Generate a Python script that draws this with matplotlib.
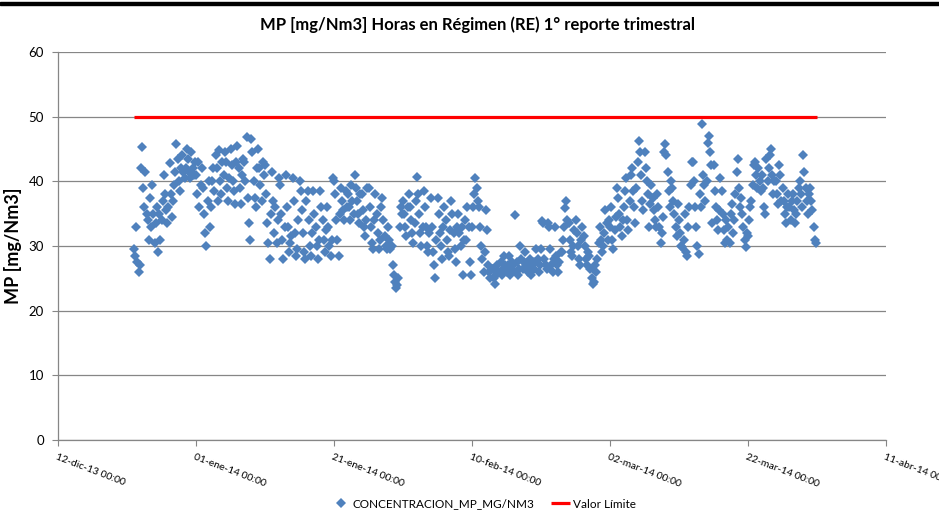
import matplotlib.pyplot as plt
import matplotlib.dates as mdates
from matplotlib.patches import Rectangle
import pandas as pd

# hourly-ish readings, 6 per day (every 4 h) starting 23-dic-13 00:00
mp_dic = [
    29.5, 28.5, 33.0, 27.5, 26.0, 27.0,
    42.0, 45.3, 39.0, 36.0, 41.5, 35.0,
    34.0, 31.0, 37.5, 33.0, 39.5, 35.0,
    30.5, 33.5, 36.0, 29.0, 35.0, 31.0,
    34.0, 37.0, 41.0, 38.0, 35.5, 33.5,
    36.0, 42.8, 38.0, 34.5, 37.0, 39.5,
    41.5, 45.8, 43.5, 40.0, 38.5, 42.0,
    44.0, 41.5, 40.5, 42.0, 45.0, 43.5,
    41.5, 40.5, 44.5, 42.0, 41.0, 43.0,
]
mp_ene = [
    41.0, 38.0, 43.0, 36.0, 39.5, 42.0,
    39.0, 35.0, 32.0, 30.0, 37.0, 40.0,
    33.0, 36.0, 40.0, 42.0, 38.5, 44.0,
    42.0, 37.0, 44.8, 40.0, 38.0, 43.0,
    41.0, 44.5, 43.0, 39.0, 37.0, 40.5,
    45.0, 42.5, 40.0, 38.5, 36.5, 43.0,
    45.5, 42.0, 39.0, 36.5, 41.0, 43.5,
    43.0, 40.0, 46.8, 37.5, 33.5, 31.0,
    46.5, 44.5, 40.0, 37.5, 36.0, 42.0,
    45.0, 42.0, 39.5, 37.0, 43.0, 41.0,
    42.5, 38.0, 33.5, 30.5, 28.0, 35.0,
    41.5, 37.0, 32.0, 36.0, 30.5, 34.0,
    40.5, 39.5, 35.0, 31.0, 28.0, 33.0,
    41.0, 36.0, 33.0, 29.0, 30.5, 31.5,
    40.5, 37.0, 32.0, 28.5, 29.5, 34.0,
    40.0, 38.5, 35.5, 32.0, 29.0, 28.0,
    37.0, 38.5, 34.0, 30.0, 28.5, 32.0,
    38.5, 35.0, 33.0, 30.0, 28.0, 31.0,
    38.5, 36.0, 34.0, 31.0, 29.0, 32.5,
    36.0, 33.0, 30.0, 28.5, 31.0, 40.5,
    40.0, 38.0, 34.0, 31.0, 28.5, 35.0,
    39.0, 37.0, 35.5, 34.0, 38.5, 36.0,
    38.0, 36.0, 34.0, 39.5, 37.0, 35.0,
    41.0, 39.0, 37.0, 35.0, 33.5, 38.0,
    38.0, 35.5, 33.0, 31.5, 34.0, 39.0,
    39.0, 36.0, 33.0, 30.5, 29.5, 34.0,
    38.0, 35.0, 32.0, 29.5, 31.0, 36.0,
    37.5, 34.0, 31.5, 30.0, 29.5, 33.0,
    31.0, 29.5, 30.0, 27.0, 25.5, 24.5,
    23.5, 24.0, 25.0, 33.0, 36.0, 35.0,
    37.0, 35.0, 33.0, 31.5, 36.0, 38.0,
]
mp_feb = [
    36.0, 34.0, 32.0, 30.5, 33.5, 37.0,
    40.7, 38.0, 35.0, 32.0, 30.0, 33.0,
    38.5, 36.0, 33.0, 30.0, 29.0, 32.0,
    37.5, 33.0, 29.0, 27.0, 25.0, 31.0,
    37.5, 35.0, 32.0, 30.0, 28.0, 33.0,
    36.0, 34.0, 31.0, 29.0, 28.5, 32.5,
    37.0, 35.0, 32.0, 29.5, 27.5, 33.0,
    35.0, 32.0, 30.0, 33.0, 25.5, 31.0,
    34.0, 31.0, 36.0, 33.0, 27.5, 25.5,
    33.0, 36.0, 38.0, 40.5, 39.0, 37.0,
    36.0, 33.0, 30.0, 28.0, 26.0, 29.0,
    35.5, 32.5, 27.0, 26.0, 25.0, 26.5,
    26.5, 25.0, 24.2, 25.5, 27.0, 26.0,
    26.0, 27.5, 25.5, 26.5, 28.5, 27.0,
    26.0, 27.0, 28.5, 25.5, 26.5, 27.5,
    27.0, 34.8, 26.0, 27.5, 25.5, 26.5,
    30.0, 28.0, 26.5, 27.5, 29.0, 27.0,
    27.0, 26.0, 28.0, 25.5, 26.5, 27.5,
    26.5, 27.5, 29.5, 28.0, 26.0, 27.0,
    29.5, 33.8, 33.5, 28.0, 27.0, 26.5,
    33.5, 33.0, 29.5, 27.0, 26.0, 28.0,
    33.0, 28.5, 27.0, 26.0, 27.5, 29.0,
    29.0, 31.0, 33.0, 35.8, 37.0, 34.0,
    33.5, 31.0, 29.0, 28.5, 30.0, 32.5,
    34.0, 32.0, 30.0, 28.0, 27.0, 31.0,
    33.0, 31.5, 30.0, 28.0, 27.0, 29.0,
    28.5, 26.5, 25.0, 24.2, 24.5, 27.0,
    26.0, 28.0, 30.5, 33.0, 31.0, 29.0,
]
mp_mar = [
    30.0, 32.0, 35.5, 33.5, 31.0, 34.0,
    33.0, 36.0, 31.0, 29.5, 32.5, 34.5,
    39.0, 37.5, 35.0, 33.0, 31.5, 34.0,
    36.0, 38.5, 40.5, 34.0, 32.5, 37.0,
    41.0, 42.0, 38.5, 36.0, 33.5, 39.0,
    43.0, 46.3, 44.5, 41.0, 37.0, 35.5,
    44.5, 42.0, 40.0, 38.0, 33.0, 36.5,
    39.5, 37.5, 35.5, 34.0, 33.0, 38.0,
    36.0, 33.0, 30.5, 32.0, 34.5, 44.5,
    45.8, 44.0, 41.5, 38.5, 36.0, 40.0,
    39.0, 37.0, 35.0, 33.0, 31.5, 36.5,
    34.0, 32.0, 30.0, 29.8, 31.0, 35.0,
    29.0, 28.5, 33.0, 36.0, 39.5, 43.0,
    43.0, 40.0, 36.0, 33.0, 30.0, 28.8,
    38.0, 36.0, 48.9, 41.0, 39.5, 37.0,
    40.0, 46.0, 47.0, 44.5, 42.5, 33.5,
    42.5, 38.5, 36.0, 34.0, 32.5, 35.5,
    40.5, 38.5, 35.0, 32.5, 30.5, 34.0,
    31.0, 33.0, 30.5, 35.0, 36.5, 32.0,
    34.0, 38.0, 41.5, 43.5, 39.0, 36.0,
    37.5, 35.0, 33.0, 31.0, 29.9, 32.0,
    31.5, 34.0, 36.0, 37.0, 39.5, 42.5,
    43.0, 41.0, 39.0, 42.0, 40.0, 38.5,
    41.0, 39.0, 36.0, 35.0, 43.5, 40.0,
    42.0, 44.0, 45.0, 41.0, 38.0, 40.0,
    40.0, 38.0, 36.5, 42.5, 41.0, 37.0,
    39.0, 37.0, 35.0, 33.5, 36.0, 38.0,
    36.0, 34.0, 37.0, 38.0, 35.5, 33.5,
    35.0, 37.0, 39.0, 40.0, 38.0, 36.0,
    44.0, 41.5, 39.0, 37.0, 35.0, 38.0,
    39.0, 37.0, 35.5, 33.0, 31.0, 30.5,
]

limit_dates = ["2013-12-23 00:00", "2014-04-01 00:00"]
limit_values = [50, 50]

tick_dates = ["2013-12-12", "2014-01-01", "2014-01-21", "2014-02-10",
              "2014-03-02", "2014-03-22", "2014-04-11"]
tick_labels = ["12-dic-13 00:00", "01-ene-14 00:00", "21-ene-14 00:00",
               "10-feb-14 00:00", "02-mar-14 00:00", "22-mar-14 00:00",
               "11-abr-14 00:00"]

plt.rcParams["font.family"] = ["Lato", "DejaVu Sans"]

mp = mp_dic + mp_ene + mp_feb + mp_mar
times = pd.date_range("2013-12-23 00:00", periods=len(mp), freq="4h")

fig = plt.figure(figsize=(9.39, 5.19), dpi=100)
ax = fig.add_axes([58 / 939, 1 - 440 / 519, 828 / 939, 388 / 519])

grid_color = "#868686"
ax.plot(times, mp, linestyle="none", marker="D", markersize=5.4,
        color="#4F81BD", markeredgewidth=0, label="CONCENTRACION_MP_MG/NM3")
ax.plot(pd.to_datetime(limit_dates), limit_values, color="#FF0000",
        linewidth=2.3, label="Valor Límite", solid_capstyle="butt")

ax.set_ylim(0, 60)
ax.set_yticks(range(0, 61, 10))
ax.set_xlim(pd.Timestamp(tick_dates[0]), pd.Timestamp(tick_dates[-1]))
ax.set_xticks(pd.to_datetime(tick_dates))
ax.set_xticklabels(tick_labels, rotation=-21, ha="left", va="top",
                   rotation_mode="anchor", fontsize=7.5)
ax.tick_params(axis="y", labelsize=9.5, length=4, color=grid_color, pad=6)
ax.tick_params(axis="x", length=4, color=grid_color, pad=5)

ax.grid(axis="y", color=grid_color, linewidth=0.9)
ax.set_axisbelow(True)
for side in ["top", "right"]:
    ax.spines[side].set_visible(False)
for side in ["left", "bottom"]:
    ax.spines[side].set_color(grid_color)
    ax.spines[side].set_linewidth(0.9)

ax.set_ylabel("MP [mg/Nm3]", fontsize=13, fontweight="bold", labelpad=5)
fig.text(0.508, 1 - 25 / 519, "MP [mg/Nm3] Horas en Régimen (RE) 1° reporte trimestral",
         ha="center", va="center", fontsize=12, fontweight="bold")

fig.legend(loc="center", bbox_to_anchor=(0.515, 1 - 504 / 519), ncol=2,
           frameon=False, fontsize=8.5, handlelength=1.6, handletextpad=0.2,
           columnspacing=1.4, markerscale=1.0)

# black strip along the top edge of the original screenshot
fig.patches.append(Rectangle((0, 1 - 5 / 519), 1, 3.5 / 519, transform=fig.transFigure,
                             color="black", zorder=10))

fig.savefig("out.png", dpi=100)
